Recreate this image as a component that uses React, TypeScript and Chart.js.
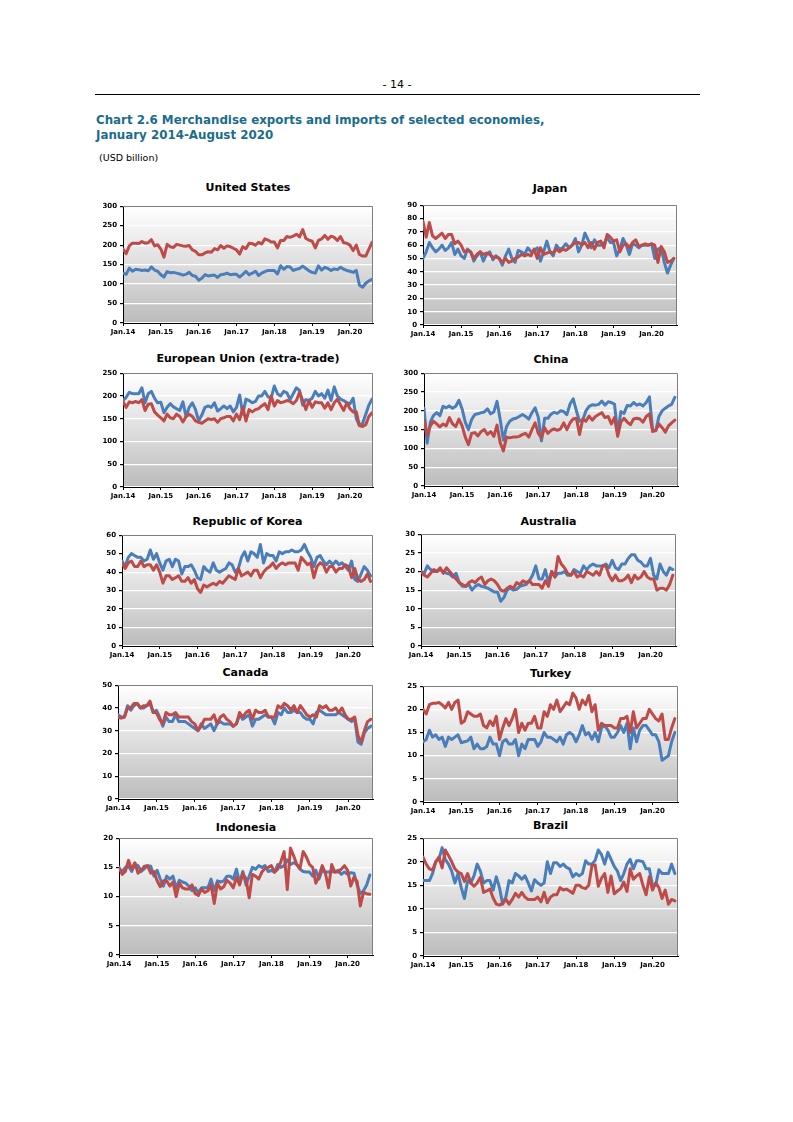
import React, { useEffect, useRef } from 'react';
import { Chart, registerables } from 'chart.js';

Chart.register(...registerables);

// ---------- DATA (Jan 2014 – Aug 2020, monthly, USD billion) ----------
const yearTicks = ['Jan.14', 'Jan.15', 'Jan.16', 'Jan.17', 'Jan.18', 'Jan.19', 'Jan.20'];

const usExports = [
  128, 125, 141, 133, 138, 137, 135, 136, 134, 144, 136, 133,
  124, 118, 132, 129, 130, 128, 126, 123, 125, 130, 122, 120,
  110, 115, 124, 121, 122, 123, 117, 124, 125, 128, 124, 125,
  125, 118, 125, 133, 124, 128, 133, 122, 128, 132, 135, 135,
  135, 126, 147, 138, 145, 144, 135, 138, 140, 146, 140, 134,
  130, 128, 147, 136, 143, 140, 135, 139, 137, 143, 138, 135,
  133, 130, 135, 97, 92, 102, 108, 112,
];
const usImports = [
  190, 178, 198, 205, 205, 204, 209, 205, 206, 214, 198, 201,
  190, 169, 202, 196, 194, 202, 200, 198, 197, 199, 188, 184,
  175, 175, 180, 183, 182, 191, 188, 199, 192, 198, 196, 192,
  188, 177, 196, 191, 205, 204, 200, 207, 203, 216, 213, 208,
  208, 193, 212, 212, 222, 220, 223, 228, 221, 240, 217, 213,
  210, 193, 212, 216, 225, 215, 223, 220, 212, 222, 206, 205,
  200, 186, 200, 176, 172, 172, 190, 207,
];

const jpExports = [
  50, 55, 62, 58, 55, 57, 60, 56, 58, 62, 53, 57,
  52, 50, 57, 55, 48, 52, 55, 48, 53, 55, 49, 52,
  50, 45, 52, 57, 50, 47, 56, 55, 53, 58, 55, 56,
  58, 48, 55, 63, 55, 52, 60, 57, 58, 61, 58, 60,
  65, 55, 60, 69, 64, 58, 64, 60, 60, 61, 66, 62,
  62, 52, 57, 65, 60, 53, 61, 60, 58, 60, 60, 60,
  61, 50, 57, 58, 47, 39, 45, 50,
];
const jpImports = [
  78, 66, 77, 67, 65, 67, 69, 65, 68, 68, 61, 63,
  60, 55, 56, 55, 50, 53, 55, 53, 54, 53, 51, 51,
  50, 47, 50, 47, 48, 50, 51, 53, 52, 53, 52, 57,
  50, 58, 53, 54, 55, 54, 57, 55, 57, 56, 58, 60,
  62, 62, 60, 62, 58, 62, 57, 62, 63, 58, 68, 66,
  63, 64, 55, 60, 61, 58, 62, 64, 59, 60, 61, 60,
  61, 60, 47, 59, 55, 47, 48, 50,
];

const euExports = [
  190, 197, 208, 205, 205, 205, 218, 185, 205, 210, 195, 185,
  186, 163, 175, 183, 176, 172, 168, 187, 155, 175, 185, 170,
  145, 158, 175, 178, 175, 185, 167, 172, 178, 172, 178, 165,
  175, 202, 160, 193, 190, 185, 188, 200, 200, 210, 198, 195,
  222, 205, 200, 210, 207, 192, 205, 218, 212, 180, 192, 190,
  195, 210, 200, 205, 195, 213, 190, 220, 200, 193, 190, 185,
  183, 195, 150, 135, 140, 160, 180, 193,
];
const euImports = [
  188, 175, 187, 185, 188, 185, 192, 168, 182, 183, 165, 158,
  152, 145, 160, 152, 150, 160, 155, 143, 155, 160, 155, 145,
  142, 140, 145, 150, 148, 150, 142, 150, 152, 155, 155, 145,
  160, 148, 175, 145, 170, 165, 170, 172, 178, 183, 170, 200,
  178, 190, 185, 187, 190, 188, 183, 190, 208, 190, 170, 190,
  175, 187, 185, 185, 173, 185, 170, 185, 193, 180, 168, 185,
  172, 165, 165, 135, 133, 137, 155, 163,
];

const cnExports = [
  207, 114, 170, 188, 195, 187, 212, 208, 213, 207, 212, 228,
  205, 170, 150, 177, 190, 192, 195, 197, 205, 192, 197, 225,
  177, 122, 158, 172, 178, 180, 185, 190, 185, 178, 195, 208,
  183, 120, 180, 180, 191, 196, 193, 200, 198, 190, 218, 232,
  200, 172, 175, 200, 212, 216, 215, 217, 226, 215, 224, 222,
  218, 140, 198, 193, 214, 213, 222, 215, 218, 213, 222, 237,
  150, 147, 185, 200, 207, 213, 217, 236,
];
const cnImports = [
  175, 135, 160, 172, 165, 157, 165, 160, 182, 165, 158, 178,
  160, 130, 110, 140, 142, 133, 145, 150, 137, 145, 132, 162,
  115, 93, 130, 128, 130, 130, 132, 137, 140, 130, 150, 168,
  140, 128, 155, 140, 148, 152, 148, 152, 168, 150, 168, 178,
  180, 137, 178, 172, 186, 175, 185, 190, 195, 182, 185, 165,
  182, 132, 170, 180, 170, 163, 178, 180, 178, 170, 185, 192,
  145, 148, 165, 155, 143, 160, 168, 175,
];

const krExports = [
  46, 43, 48, 50, 49, 48, 48, 46, 47, 52, 47, 50,
  45, 41, 46, 47, 43, 47, 46, 39, 43, 43, 44, 41,
  37, 36, 43, 41, 40, 45, 41, 40, 41, 42, 45, 44,
  40, 42, 48, 51, 46, 51, 50, 48, 55, 45, 50, 49,
  49, 46, 51, 50, 51, 51, 52, 51, 51, 52, 55, 51,
  48, 43, 48, 49, 46, 44, 46, 44, 46, 44, 45, 43,
  41, 46, 36, 35, 39, 43, 41, 38,
];
const krImports = [
  45, 42, 45, 46, 43, 43, 46, 43, 44, 44, 41, 44,
  40, 34, 38, 38, 36, 37, 38, 35, 35, 37, 34, 36,
  31, 29, 33, 32, 33, 34, 33, 35, 34, 36, 38, 37,
  36, 42, 38, 39, 40, 38, 41, 41, 37, 40, 42, 43,
  45, 42, 44, 45, 44, 45, 45, 45, 41, 48, 46, 44,
  45, 37, 43, 45, 44, 40, 43, 43, 40, 42, 42, 44,
  43, 37, 42, 36, 35, 36, 39, 35,
];

const auExports = [
  20, 19.5, 21.5, 20.5, 20, 20, 20.5, 20, 19.5, 19.3, 18.5, 19.5,
  17, 16, 16, 16.5, 15, 16, 16.5, 16, 15.8, 15.5, 15, 14.5,
  14.5, 12, 13, 15, 15.5, 15, 15.2, 16, 16.3, 16.5, 17.5, 19,
  21.5, 18, 18, 20.5, 17, 20, 18.5, 19.5, 19.5, 20, 19, 19,
  20.5, 20, 19.5, 21.5, 20.5, 21.5, 22, 21.5, 21.5, 21.5, 22, 21,
  23, 21, 20.5, 22, 22, 23.5, 24.5, 24.5, 23, 22.5, 21.5, 21.5,
  23.5, 19, 18, 22, 20, 19, 21, 20.5,
];
const auImports = [
  20, 19, 18.5, 19.5, 20.5, 20, 21, 19.5, 21, 20, 19, 18,
  17, 16.5, 16, 17, 17.5, 17, 18, 18.5, 16.5, 17.5, 18, 17.5,
  16.5, 15, 14.7, 15.5, 16, 15.5, 17, 16.5, 17.5, 17, 17.5, 16.5,
  16.5, 16.5, 15.5, 17.5, 16, 20, 18.5, 24, 22, 21, 19.5, 19,
  20, 18.5, 19, 18.5, 20, 19.5, 19, 20, 19, 21.5, 21.5, 19,
  17.5, 19, 17.5, 17.5, 18, 19, 17, 19, 18, 18.5, 20, 18.5,
  18, 18, 15, 15.5, 15.5, 15, 16.5, 19,
];

const caExports = [
  37, 36, 36, 41, 39, 41, 42, 40, 40, 41, 42, 38,
  39, 36, 32, 36, 34, 34, 37, 34, 34, 34, 33, 32,
  31, 30, 33, 31, 32, 33, 30, 33, 34, 33, 33, 33,
  32, 33, 37, 35, 36, 37, 32, 35, 35, 36, 37, 36,
  36, 33, 38, 37, 40, 38, 38, 39, 38, 38, 36, 35,
  35, 33, 38, 39, 38, 37, 37, 37, 37, 38, 37, 36,
  35, 34, 35, 25, 24, 29, 31, 32,
];
const caImports = [
  36, 35.5, 36, 40, 40, 42, 42, 40, 41, 41, 43, 38,
  38, 35, 33, 38, 37, 37, 38, 36, 36, 36, 36, 34,
  33, 30, 32, 35, 35, 35, 37, 33, 36, 37, 35, 34,
  32, 33, 38, 36, 38, 39, 35, 39, 38, 38, 39, 36,
  36, 36, 41, 40, 42, 41, 39, 41, 38, 41, 39, 37,
  36, 37, 36, 41, 40, 41, 39, 39, 40, 38, 40, 37,
  35, 35, 36, 28, 25, 30, 34, 35,
];

const trExports = [
  13, 13.5, 15.5, 14, 14.5, 13.5, 14, 12, 14, 13.5, 14, 14.5,
  12.8, 13, 13.2, 14, 11.5, 12.5, 11.5, 11.5, 12, 14, 12.5, 12.5,
  10, 13, 13.5, 12.5, 12.5, 13.5, 10, 12.5, 11.5, 13.5, 13.5, 13.5,
  12, 13, 15, 14, 14, 13.5, 13, 14, 12.5, 14.5, 15, 14.5,
  13, 14.5, 16.5, 14.5, 15, 13.5, 15, 13, 16, 16.5, 15.5, 14,
  14, 15, 16.5, 15, 17, 11.5, 16, 13, 15.5, 16.5, 16.5, 15.5,
  14.5, 14.5, 13, 9, 9.5, 10, 13, 15,
];
const trImports = [
  20, 19, 21, 21.3, 21.3, 21.5, 21, 20.3, 21.5, 20, 21.5, 22,
  17, 17.5, 19.5, 19, 18.5, 18.5, 19, 16.5, 16, 17.5, 16.5, 18.5,
  13.5, 16, 18, 16.5, 18, 20, 15, 17, 15.5, 17, 17, 18.5,
  16, 16, 19.5, 18.5, 21, 20, 22, 19.5, 20.5, 21.5, 21, 23.5,
  22.5, 20, 22, 21, 23, 19.5, 21, 15.5, 17, 16.5, 16.5, 16.5,
  16, 16, 18, 18, 18.5, 15, 19.5, 16, 17, 18, 18, 20,
  19, 18, 17.5, 19, 13.5, 13.5, 16, 18,
];

const idExports = [
  14.8, 14.3, 15, 15.2, 14.3, 15.5, 15.3, 14.3, 14.8, 15.3, 15.2, 13.5,
  14.5, 13, 11.8, 13.5, 13, 13.5, 11.5, 12.8, 12.5, 12.3, 11.8, 11,
  11.5, 10.7, 11.5, 11.5, 11.5, 13, 11, 12.7, 12.5, 12.7, 13.5, 13.5,
  13, 14.7, 12.3, 14.3, 12, 13.5, 15, 14.7, 15.3, 15, 15.3, 14.3,
  14.5, 14.2, 15.5, 15, 15.3, 16.3, 15.5, 15.8, 15.5, 14.7, 14.3, 14.2,
  14.2, 13.5, 14.5, 13, 14.5, 14.2, 14.2, 14.3, 14.2, 14.5, 13.8, 14.2,
  13.8, 14.1, 14, 12, 10.5, 11, 12, 13.7,
];
const idImports = [
  15, 13.8, 14.3, 16.2, 14.7, 15.8, 14, 14.5, 15.2, 15.3, 14, 14.3,
  12.7, 11.7, 12.7, 12.7, 11.8, 12.5, 10, 12.3, 11.5, 11.3, 11.3, 12,
  10.5, 10.2, 11.3, 10.7, 11, 12, 8.8, 12.3, 11.3, 11.7, 12.8, 12.3,
  11.5, 13.3, 12, 14, 13, 9.8, 13.8, 13.5, 13, 14.2, 14.8, 15,
  15.3, 14.2, 14.7, 16, 17.7, 11.2, 18.3, 17, 15.5, 14.8, 17.7, 16.8,
  15.5, 15, 12.3, 13.5, 15.3, 14, 11.5, 15.5, 14.2, 14.2, 14.7, 15.3,
  14.5, 11.8, 13.3, 12.6, 8.4, 10.7, 10.5, 10.4,
];

const brExports = [
  16, 16, 16, 17.5, 20, 20.5, 23, 20.5, 19.5, 18, 15.5, 17.5,
  14.5, 12.2, 16, 15.5, 17, 19.5, 18, 15.5, 16, 16, 14, 16.8,
  14.5, 11, 12.5, 16, 15.5, 17.5, 17, 16.3, 17, 15.5, 13.8, 16.2,
  15.5, 15, 15.5, 20, 17.5, 19.8, 19.8, 19, 19.5, 18.8, 18.5, 16.8,
  17.5, 17, 17.5, 20.2, 19.5, 19.5, 20.3, 22.5, 21.5, 19.5, 22, 20.5,
  19, 18, 16, 17.5, 19.5, 20.5, 18.5, 20.2, 20.2, 20, 18.5, 18.5,
  15, 15, 18.3, 17.5, 17.5, 17.5, 19.5, 17.5,
];
const brImports = [
  21, 19.5, 18.5, 18.2, 20, 21, 18.7, 22.5, 21.3, 20, 18.5, 17.8,
  17.5, 15.8, 17.5, 15.5, 14.8, 15.5, 16.7, 13.5, 13.8, 14.2, 12.3, 11,
  10.8, 11.2, 12, 11, 12, 13.3, 12.5, 13.5, 12.5, 12, 12, 12,
  12.5, 11.5, 13.5, 11.3, 12.5, 13, 13, 14.5, 14, 14.2, 13.8, 13.3,
  15, 15, 14.5, 14.3, 15, 19.2, 19.3, 14.8, 16.5, 17.5, 13.5, 17,
  13.2, 13.8, 14.3, 15.7, 13.7, 18.5, 16.3, 17, 17.5, 15, 13, 16.8,
  14, 15.5, 14.5, 12.2, 14, 11, 12, 11.7,
];

// ---------- STYLE / LAYOUT ----------
const BLUE = '#4A7EBB';
const RED = '#BE4B48';
const FONT = "'DejaVu Sans', Verdana, sans-serif";

type PanelCfg = {
  title: string;
  ex: number[];
  im: number[];
  max: number;
  step: number;
  xMax: number;
  box: [number, number, number, number];
  ty: number;
};

const panels: PanelCfg[] = [
  { title: 'United States', ex: usExports, im: usImports, max: 300, step: 50, xMax: 79.3, box: [123, 205, 373, 323], ty: 187 },
  { title: 'Japan', ex: jpExports, im: jpImports, max: 90, step: 10, xMax: 80, box: [423, 204, 677, 325], ty: 188 },
  { title: 'European Union (extra-trade)', ex: euExports, im: euImports, max: 250, step: 50, xMax: 79.3, box: [123, 372, 373, 487], ty: 358 },
  { title: 'China', ex: cnExports, im: cnImports, max: 300, step: 50, xMax: 80, box: [424, 372, 678, 486], ty: 359 },
  { title: 'Republic of Korea', ex: krExports, im: krImports, max: 60, step: 10, xMax: 79.8, box: [122, 534, 373, 646], ty: 521 },
  { title: 'Australia', ex: auExports, im: auImports, max: 30, step: 5, xMax: 80, box: [421, 533, 676, 646], ty: 521 },
  { title: 'Canada', ex: caExports, im: caImports, max: 50, step: 10, xMax: 79.7, box: [118, 684, 373, 799], ty: 672 },
  { title: 'Turkey', ex: trExports, im: trImports, max: 25, step: 5, xMax: 80, box: [423, 685, 678, 802], ty: 673 },
  { title: 'Indonesia', ex: idExports, im: idImports, max: 20, step: 5, xMax: 80, box: [119, 837, 373, 955], ty: 827 },
  { title: 'Brazil', ex: brExports, im: brImports, max: 25, step: 5, xMax: 80, box: [423, 837, 678, 956], ty: 825 },
];

const plotPlugin = {
  id: 'plotBg',
  beforeDraw(chart: any) {
    const { ctx, chartArea: a } = chart;
    const g = ctx.createLinearGradient(0, a.top, 0, a.bottom);
    g.addColorStop(0, '#ffffff');
    g.addColorStop(1, '#bcbcbc');
    ctx.save();
    ctx.fillStyle = g;
    ctx.fillRect(a.left, a.top, a.right - a.left, a.bottom - a.top);
    ctx.restore();
  },
  afterDraw(chart: any) {
    const { ctx, chartArea: a } = chart;
    ctx.save();
    ctx.strokeStyle = '#7f7f7f';
    ctx.lineWidth = 1;
    ctx.beginPath();
    ctx.moveTo(a.left, Math.round(a.top) + 0.5);
    ctx.lineTo(Math.round(a.right) - 0.5, Math.round(a.top) + 0.5);
    ctx.lineTo(Math.round(a.right) - 0.5, a.bottom);
    ctx.stroke();
    ctx.restore();
  },
};

const AXW = 30;
const PT = 6;
const PR = 5;
const XH = 16;

function Panel({ p }: { p: PanelCfg }) {
  const ref = useRef<HTMLCanvasElement>(null);
  const [L, T, R, B] = p.box;
  const w = R - L + AXW + PR;
  const h = B - T + PT + XH;

  useEffect(() => {
    const tickFont = { family: FONT, size: 7, weight: 'bold' as const };
    const lineStyle = {
      borderWidth: 3,
      pointRadius: 0,
      tension: 0,
      fill: false,
      borderJoinStyle: 'round' as const,
      borderCapStyle: 'round' as const,
    };
    const chart = new Chart(ref.current as HTMLCanvasElement, {
      type: 'line',
      data: {
        datasets: [
          {
            label: 'Imports',
            data: p.im.map((y, x) => ({ x, y })),
            borderColor: RED,
            backgroundColor: RED,
            ...lineStyle,
          },
          {
            label: 'Exports',
            data: p.ex.map((y, x) => ({ x, y })),
            borderColor: BLUE,
            backgroundColor: BLUE,
            ...lineStyle,
          },
        ],
      },
      options: {
        responsive: false,
        animation: false,
        devicePixelRatio: 1,
        layout: { padding: { left: 0, top: PT, right: PR, bottom: 0 } },
        plugins: {
          legend: { display: false },
          tooltip: { enabled: false },
        },
        scales: {
          x: {
            type: 'linear',
            min: 0,
            max: p.xMax,
            afterFit: (s: any) => {
              s.height = XH;
            },
            grid: { display: true, drawOnChartArea: false, tickLength: 3, tickColor: '#000' },
            border: { color: '#000', width: 1 },
            ticks: {
              stepSize: 12,
              includeBounds: false,
              autoSkip: false,
              maxRotation: 0,
              padding: 2,
              color: '#000',
              font: tickFont,
              callback: (v: any) => {
                const k = Number(v) / 12;
                return Number.isInteger(k) ? yearTicks[k] ?? '' : '';
              },
            },
          },
          y: {
            min: 0,
            max: p.max,
            afterFit: (s: any) => {
              s.width = AXW;
            },
            grid: { color: '#ffffff', lineWidth: 1.2, tickLength: 3, tickColor: '#000' },
            border: { color: '#000', width: 1 },
            ticks: { stepSize: p.step, padding: 3, color: '#000', font: tickFont },
          },
        },
      },
      plugins: [plotPlugin],
    } as any);
    return () => chart.destroy();
  }, []);

  return (
    <>
      <div
        style={{
          position: 'absolute',
          left: (L + R) / 2,
          top: p.ty,
          transform: 'translate(-50%, -50%)',
          fontFamily: FONT,
          fontWeight: 'bold',
          fontSize: 11,
          whiteSpace: 'nowrap',
          lineHeight: 1,
          color: '#000',
        }}
      >
        {p.title}
      </div>
      <canvas
        ref={ref}
        width={w}
        height={h}
        style={{ position: 'absolute', left: L - AXW, top: T - PT, width: w, height: h }}
      />
    </>
  );
}

export default function App() {
  return (
    <div
      style={{
        position: 'absolute',
        left: 0,
        top: 0,
        width: 793,
        height: 1122,
        background: '#ffffff',
        overflow: 'hidden',
      }}
    >
      <div
        style={{
          position: 'absolute',
          left: 397,
          top: 84,
          transform: 'translate(-50%, -50%)',
          fontFamily: FONT,
          fontSize: 11,
          lineHeight: 1,
          color: '#000',
          whiteSpace: 'nowrap',
        }}
      >
        - 14 -
      </div>
      <div style={{ position: 'absolute', left: 95, top: 94, width: 605, height: 1, background: '#000' }} />
      <div
        style={{
          position: 'absolute',
          left: 96,
          top: 113,
          fontFamily: FONT,
          fontWeight: 'bold',
          fontSize: 11.85,
          lineHeight: '14.5px',
          color: '#1B6C8C',
          whiteSpace: 'nowrap',
        }}
      >
        Chart 2.6 Merchandise exports and imports of selected economies,
        <br />
        January 2014-August 2020
      </div>
      <div
        style={{
          position: 'absolute',
          left: 99,
          top: 152,
          fontFamily: FONT,
          fontSize: 9.5,
          lineHeight: '12px',
          color: '#000',
          whiteSpace: 'nowrap',
        }}
      >
        (USD billion)
      </div>
      {panels.map((p) => (
        <Panel key={p.title} p={p} />
      ))}
    </div>
  );
}
